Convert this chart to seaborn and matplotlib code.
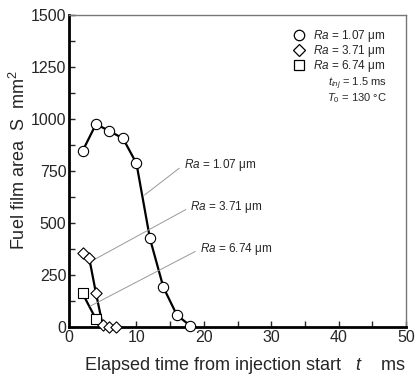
import matplotlib
matplotlib.use("Agg")
import matplotlib.pyplot as plt
from matplotlib.lines import Line2D
import seaborn as sns
import pandas as pd

# Data
t_107 = [2, 4, 6, 8, 10, 12, 14, 16, 18]
s_107 = [846, 976, 942, 907, 787, 426, 191, 58, 6]
t_371 = [2, 3, 4, 5, 6, 7]
s_371 = [354, 330, 162, 8, 0, 0]
t_674 = [2, 4]
s_674 = [162, 38]
t_674_line = [2, 4, 4.7]
s_674_line = [162, 38, 0]

labels = ["1.07", "3.71", "6.74"]

sns.set_style("ticks")
plt.rcParams['font.family'] = ['Liberation Sans', 'DejaVu Sans']
plt.rcParams['mathtext.fontset'] = 'custom'
plt.rcParams['mathtext.rm'] = 'Liberation Sans'
plt.rcParams['mathtext.it'] = 'Liberation Sans:italic'

fig = plt.figure(figsize=(4.16, 3.76), dpi=100)
ax = fig.add_axes([0.166, 0.130, 0.810, 0.830])

d107 = pd.DataFrame({"t": t_107, "s": s_107})
d371 = pd.DataFrame({"t": t_371, "s": s_371})
d674 = pd.DataFrame({"t": t_674, "s": s_674})
d674l = pd.DataFrame({"t": t_674_line, "s": s_674_line})

lw = 1.6
sns.lineplot(data=d107, x="t", y="s", color="black", lw=lw, ax=ax, zorder=2)
sns.lineplot(data=d371.iloc[:4], x="t", y="s", color="black", lw=lw, ax=ax, zorder=2)
sns.lineplot(data=d674l, x="t", y="s", color="black", lw=lw, ax=ax, zorder=2)

ms = 55
sns.scatterplot(data=d107, x="t", y="s", marker="o", s=ms, facecolor="white",
                edgecolor="black", linewidth=0.8, ax=ax, zorder=3, clip_on=False)
sns.scatterplot(data=d371, x="t", y="s", marker="D", s=ms*0.6, facecolor="white",
                edgecolor="black", linewidth=0.8, ax=ax, zorder=4, clip_on=False)
sns.scatterplot(data=d674, x="t", y="s", marker="s", s=ms, facecolor="white",
                edgecolor="black", linewidth=0.8, ax=ax, zorder=3, clip_on=False)

ax.set_xlim(0, 50)
ax.set_ylim(0, 1500)
ax.set_xticks(range(0, 51, 10))
ax.set_xticks(range(5, 50, 10), minor=True)
ax.set_yticks(range(0, 1501, 250))
ax.set_yticks(range(125, 1500, 250), minor=True)
ax.tick_params(which="both", direction="in", length=4, width=1, labelsize=11.5, pad=2)

for side in ["left", "bottom"]:
    ax.spines[side].set_linewidth(2)
    ax.spines[side].set_color("black")
for side in ["top", "right"]:
    ax.spines[side].set_visible(True)
    ax.spines[side].set_linewidth(1)
    ax.spines[side].set_color("#777777")

ax.set_xlabel(r"Elapsed time from injection start   $\it{t}$    ms", fontsize=13)
ax.set_ylabel(r"Fuel film area  S  mm$^2$", fontsize=13)
ax.xaxis.set_label_coords(0.52, -0.088)
ax.yaxis.set_label_coords(-0.118, 0.535)

# Legend
handles = [
    Line2D([], [], marker="o", ls="none", mfc="white", mec="black", ms=7.5, mew=0.9),
    Line2D([], [], marker="D", ls="none", mfc="white", mec="black", ms=6.5, mew=0.9),
    Line2D([], [], marker="s", ls="none", mfc="white", mec="black", ms=7.5, mew=0.9),
]
leg = ax.legend(handles, [r"$\it{Ra}$ = " + l + " μm" for l in labels],
                loc="upper left", bbox_to_anchor=(0.665, 0.958), frameon=False,
                fontsize=8.5, handletextpad=0.7, labelspacing=-0.08,
                handlelength=1.0, borderpad=0, borderaxespad=0)
ax.text(0.855, 0.781, r"$\it{t}_{\it{inj}}$ = 1.5 ms", transform=ax.transAxes,
        fontsize=8, ha="center", va="center")
ax.text(0.855, 0.735, r"$\it{T}_{\it{0}}$ = 130 °C", transform=ax.transAxes,
        fontsize=8, ha="center", va="center")

# Annotations
ann = [("1.07", (11.2, 635), (17.0, 780)),
       ("3.71", (3.6, 322), (18.0, 577)),
       ("6.74", (3.1, 100), (19.4, 375))]
for lab, xy, xyt in ann:
    ax.annotate(r"$\it{Ra}$ = " + lab + " μm", xy=xy, xytext=xyt,
                fontsize=8.5, ha="left", va="center",
                arrowprops=dict(arrowstyle="-", color="#999999", lw=0.7,
                                relpos=(0, 0.5), shrinkA=1, shrinkB=0))

fig.savefig("out.png", dpi=100)
